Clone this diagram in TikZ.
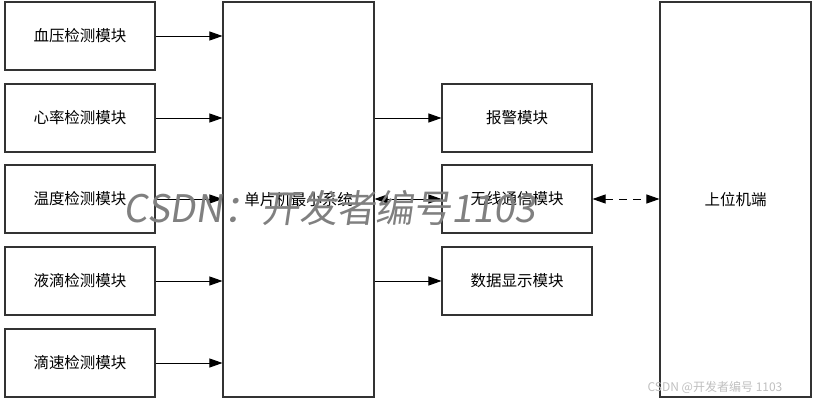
\documentclass[tikz,border=0pt]{standalone}
\usepackage{fontspec}
\setmainfont{Liberation Sans}
\newfontfamily\cjk{Noto Sans CJK SC}
\usetikzlibrary{arrows.meta}
\begin{document}
\begin{tikzpicture}[x=1pt,y=-1pt,
  blk/.style={draw=black!80,line width=1.1pt,inner sep=0pt,font=\cjk\fontsize{15.5}{17}\selectfont},
  arr/.style={line width=0.9pt,-{Triangle[length=13pt,width=9pt]}},
  darr/.style={line width=0.9pt,{Triangle[length=13pt,width=9pt]}-{Triangle[length=13pt,width=9pt]}}]
\useasboundingbox (0,0) rectangle (817,404);
% left modules
\node[blk,minimum width=150pt,minimum height=68pt] (bp) at (80,36) {血压检测模块};
\node[blk,minimum width=150pt,minimum height=68pt] (hr) at (80,118) {心率检测模块};
\node[blk,minimum width=150pt,minimum height=68pt] (tp) at (80,199) {温度检测模块};
\node[blk,minimum width=150pt,minimum height=68pt] (dr) at (80,281) {液滴检测模块};
\node[blk,minimum width=150pt,minimum height=68pt] (ds) at (80,363) {滴速检测模块};
% MCU
\node[blk,minimum width=151pt,minimum height=395pt] (mcu) at (298.5,199.5) {单片机最小系统};
% right modules
\node[blk,minimum width=150pt,minimum height=68pt] (al) at (517,118) {报警模块};
\node[blk,minimum width=150pt,minimum height=68pt] (wl) at (517,199) {无线通信模块};
\node[blk,minimum width=150pt,minimum height=68pt] (dp) at (517,281) {数据显示模块};
% host
\node[blk,minimum width=151pt,minimum height=395pt] (host) at (735.5,199.5) {上位机端};
% arrows
\foreach \n in {bp,hr,tp,dr,ds}{
  \draw[arr] (\n.east) -- (\n.east -| mcu.west);
}
\draw[arr] (al.west -| mcu.east) -- (al.west);
\draw[darr] (wl.west -| mcu.east) -- (wl.west);
\draw[arr] (dp.west -| mcu.east) -- (dp.west);
\draw[darr,dashed,dash pattern=on 8pt off 6pt] (wl.east) -- (wl.east -| host.west);
% watermarks
\node[text=black!50,font=\cjk\fontsize{38}{40}\selectfont,xslant=0.15,inner sep=0pt] (wm) at (332,208) {CSDN：开发者编号1103};
\node[text=black!25,font=\cjk\fontsize{12}{14}\selectfont,inner sep=0pt] (wm2) at (715,387) {CSDN @开发者编号 1103};
\end{tikzpicture}
\end{document}
